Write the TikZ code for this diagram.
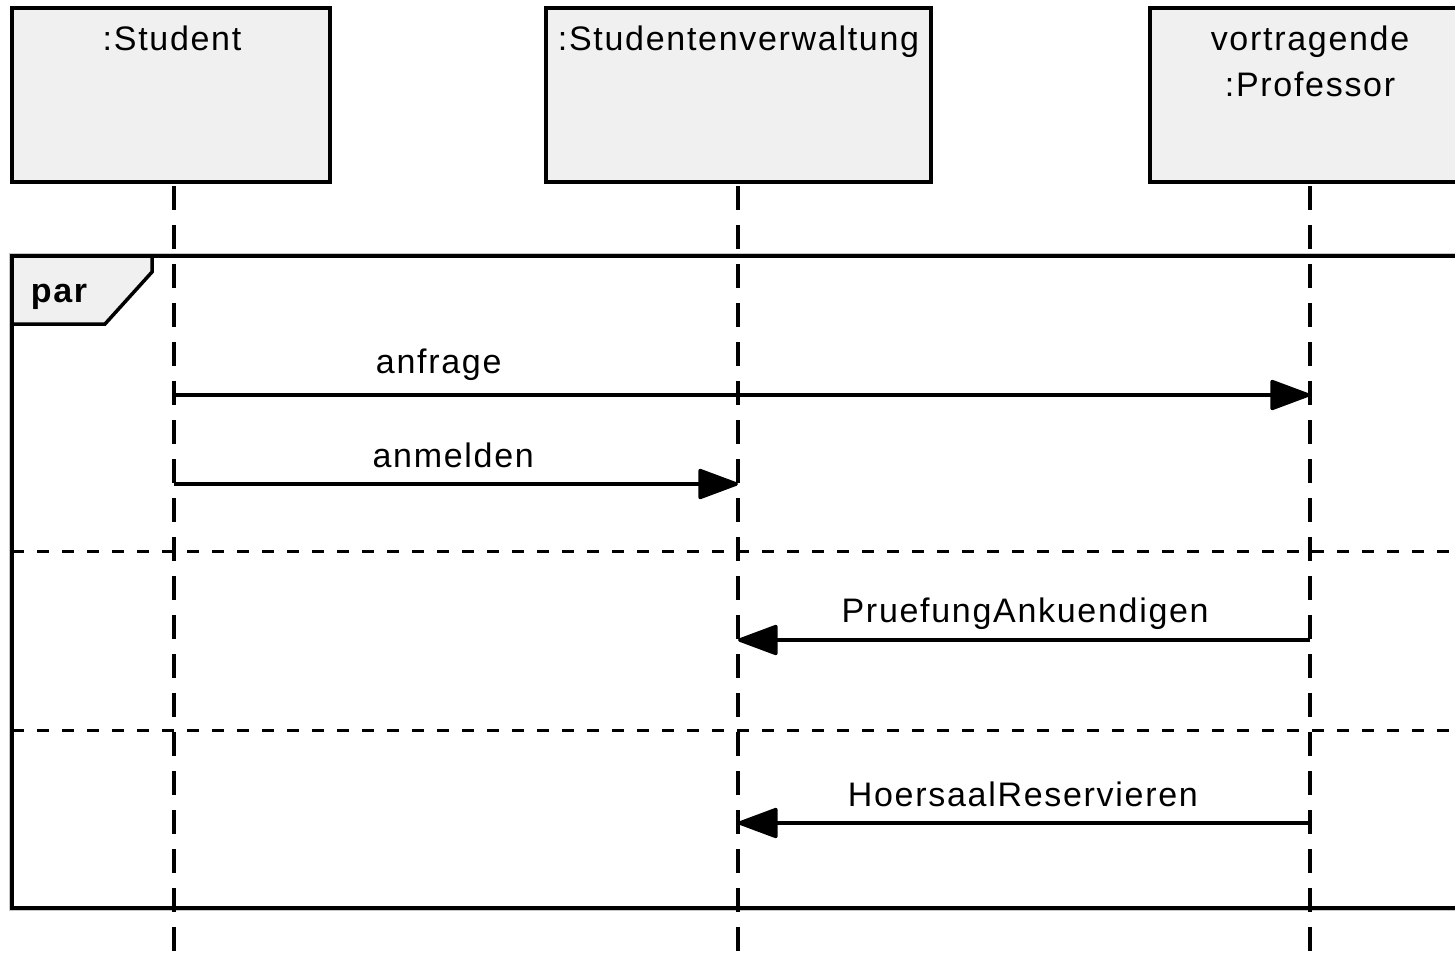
\documentclass[tikz,border=0pt]{standalone}
\usepackage{fontspec}
\setmainfont{Liberation Sans}[LetterSpace=5]
\usetikzlibrary{arrows.meta}

\begin{document}
\begin{tikzpicture}[x=1pt,y=-1pt,
  objbox/.style={draw=black, line width=3.5pt, fill=black!6, inner sep=0pt},
  txt/.style={inner sep=0pt, anchor=base, font=\fontsize{34}{40}\selectfont},
  lifeline/.style={line width=3.5pt, dash pattern=on 24pt off 15pt},
  separator/.style={line width=3pt, dash pattern=on 12pt off 13pt},
  msg/.style={line width=3.5pt, -{Triangle[length=43pt,width=31pt,round]}},
]
\useasboundingbox (0,0) rectangle (1455,954);
\clip (0,0) rectangle (1455,954);

% combined fragment frame (soft grey rim under the black border)
\draw[line width=6.5pt, black!22] (12,256) rectangle (1475,908);
\draw[line width=3.5pt, fill=white] (12,256) rectangle (1475,908);
\filldraw[line width=3.5pt, fill=black!6, line join=miter]
  (12,256) -- (152,256) -- (152,272) -- (105,324) -- (12,324) -- cycle;
\node[txt, font=\fontsize{34}{40}\selectfont\bfseries] (par) at (59,302) {par};

% operand separators
\coordinate (sepAl) at (12,551);
\coordinate (sepAr) at (1455,551);
\coordinate (sepBl) at (12,730);
\coordinate (sepBr) at (1455,730);
\draw[separator] (sepAl) -- (sepAr);
\draw[separator] (sepBl) -- (sepBr);

% participants
\node[objbox, minimum width=318pt, minimum height=174pt] (stud) at (171,95) {};
\node[txt] (studL) at (172,50) {:Student};
\node[objbox, minimum width=385pt, minimum height=174pt] (verw) at (738.5,95) {};
\node[txt] (verwL) at (738.5,50) {:Studentenverwaltung};
\node[objbox, minimum width=320pt, minimum height=174pt] (prof) at (1310,95) {};
\node[txt] (profA) at (1310,50) {vortragende};
\node[txt] (profB) at (1310,96) {:Professor};

% lifelines
\coordinate (sTop) at (174,186);
\coordinate (sBot) at (174,960);
\coordinate (vTop) at (738,186);
\coordinate (vBot) at (738,960);
\coordinate (pTop) at (1310,186);
\coordinate (pBot) at (1310,960);
\draw[lifeline] (sTop) -- (sBot);
\draw[lifeline] (vTop) -- (vBot);
\draw[lifeline] (pTop) -- (pBot);

% messages
\coordinate (s1) at (174,395);
\coordinate (p1) at (1310,395);
\coordinate (s2) at (174,484);
\coordinate (v2) at (738,484);
\coordinate (p3) at (1310,640);
\coordinate (v3) at (738,640);
\coordinate (p4) at (1310,823);
\coordinate (v4) at (738,823);
\draw[msg] (s1) -- node[txt, pos=0.233, yshift=22pt] {anfrage} (p1);
\draw[msg] (s2) -- node[txt, pos=0.495, yshift=17pt] {anmelden} (v2);
\draw[msg] (p3) -- node[txt, pos=0.498, yshift=18pt] {PruefungAnkuendigen} (v3);
\draw[msg] (p4) -- node[txt, pos=0.502, yshift=17pt] {HoersaalReservieren} (v4);
\end{tikzpicture}
\end{document}
